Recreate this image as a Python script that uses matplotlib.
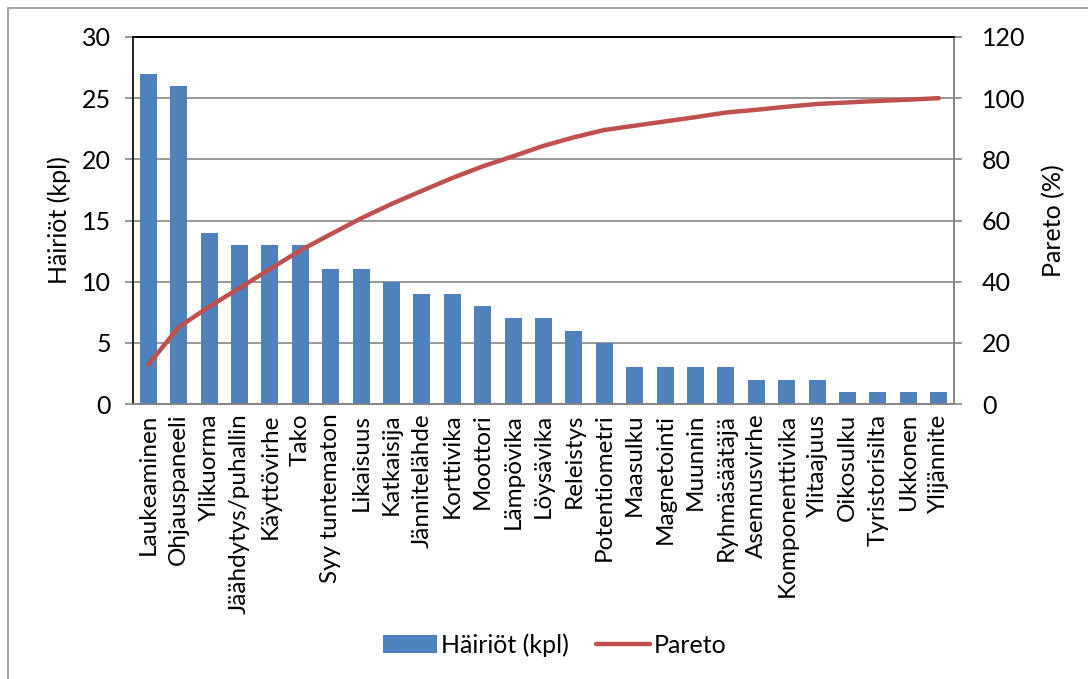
import matplotlib.pyplot as plt
from matplotlib.patches import Rectangle
import numpy as np

plt.rcParams['font.family'] = ['Lato', 'DejaVu Sans']

categories = ['Laukeaminen', 'Ohjauspaneeli', 'Ylikuorma', 'Jäähdytys/puhallin',
              'Käyttövirhe', 'Tako', 'Syy tuntematon', 'Likaisuus', 'Katkaisija',
              'Jännitelähde', 'Korttivika', 'Moottori', 'Lämpövika', 'Löysävika',
              'Releistys', 'Potentiometri', 'Maasulku', 'Magnetointi', 'Muunnin',
              'Ryhmäsäätäjä', 'Asennusvirhe', 'Komponenttivika', 'Ylitaajuus',
              'Oikosulku', 'Tyristorisilta', 'Ukkonen', 'Ylijännite']
hairiot = [27, 26, 14, 13, 13, 13, 11, 11, 10, 9, 9, 8, 7, 7, 6, 5,
           3, 3, 3, 3, 2, 2, 2, 1, 1, 1, 1]
pareto = [12.8, 25.1, 31.8, 37.9, 44.1, 50.2, 55.5, 60.7, 65.4, 69.7, 73.9,
          77.7, 81.0, 84.4, 87.2, 89.6, 91.0, 92.4, 93.8, 95.3, 96.2, 97.2,
          98.1, 98.6, 99.1, 99.5, 100.0]
left_ticks = [0, 5, 10, 15, 20, 25, 30]
right_ticks = [0, 20, 40, 60, 80, 100, 120]

W, H = 1088, 679
fig = plt.figure(figsize=(W / 100, H / 100), dpi=100)
ax = fig.add_axes([133 / W, 1 - 404 / H, (954 - 133) / W, (404 - 37) / H])
ax2 = ax.twinx()

# outer chart frame
fig.patches.append(Rectangle((8 / W, -0.1), 1.2, 1 - 8 / H + 0.1,
                             transform=fig.transFigure, fill=False,
                             edgecolor='#a6a6a6', linewidth=1.5))

x = np.arange(len(categories))
bars = ax.bar(x, hairiot, width=0.56, color='#4f81bd', zorder=3,
              label='Häiriöt (kpl)')
line, = ax2.plot(x, pareto, color='#c0504d', linewidth=3.2,
                 solid_capstyle='round', label='Pareto')

ax.set_xlim(-0.5, len(categories) - 0.5)
ax.set_ylim(0, 30)
ax.set_yticks(left_ticks)
ax2.set_ylim(0, 120)
ax2.set_yticks(right_ticks)
ax.yaxis.grid(True, color='#868686', linewidth=1.2, zorder=0)
ax.set_axisbelow(True)

ax.set_xticks(x)
ax.set_xticklabels(categories, rotation=90, fontsize=17.5)
ax.tick_params(axis='x', length=0, pad=7)
ax.tick_params(axis='y', labelsize=18, length=6, direction='out',
               color='#868686', width=1.2, pad=10)
ax2.tick_params(axis='y', labelsize=18, length=6, direction='out',
                color='#868686', width=1.2, pad=14)

for a in (ax, ax2):
    a.spines['top'].set_color('black')
    a.spines['left'].set_color('#262626')
    a.spines['right'].set_color('#868686')
    a.spines['bottom'].set_color('#868686')
    for s in a.spines.values():
        s.set_linewidth(1.3)

ax.set_ylabel('Häiriöt (kpl)', fontsize=18, labelpad=8)
ax2.set_ylabel('Pareto (%)', fontsize=18, labelpad=12)

fig.legend([bars, line], ['Häiriöt (kpl)', 'Pareto'], loc='center',
           bbox_to_anchor=(555 / W, 1 - 645 / H), ncol=2, frameon=False,
           fontsize=18, handlelength=2.15, handletextpad=0.15, columnspacing=1.1)

fig.savefig('out.png', dpi=100)
